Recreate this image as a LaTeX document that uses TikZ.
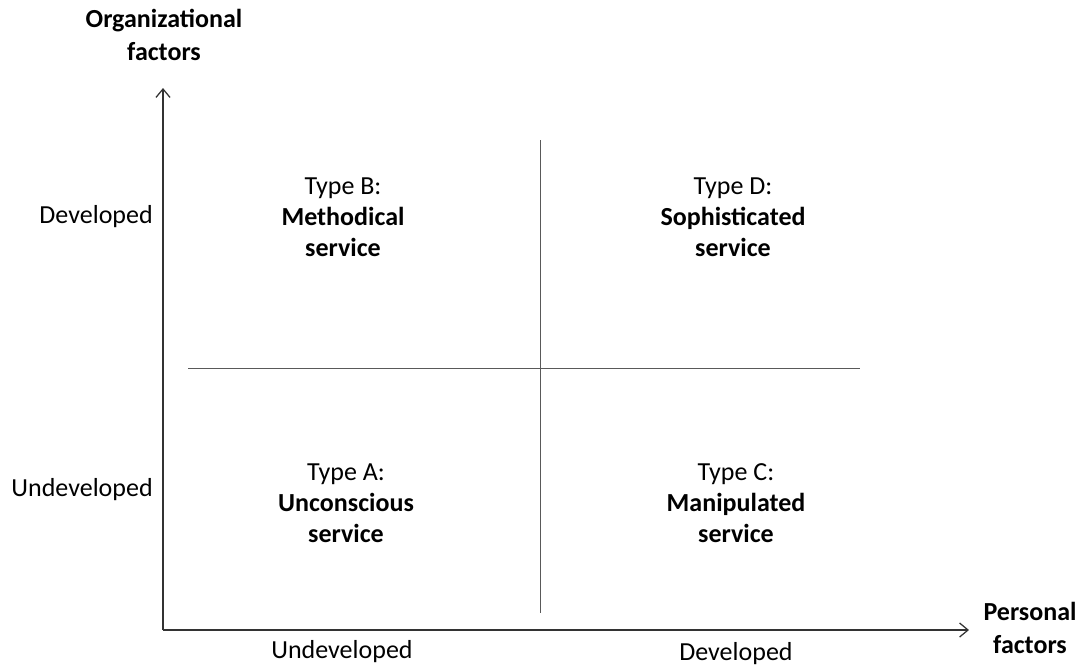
\documentclass[tikz,border=0pt]{standalone}
\usepackage{fontspec}
\setmainfont{Carlito}
\usepackage{tikz}
\usetikzlibrary{arrows.meta,positioning}

\begin{document}
\begin{tikzpicture}[
        x=0.025cm, y=-0.025cm,
        axis/.style={draw=black!80, line width=0.9pt, -{Straight Barb[length=6pt,width=10pt]}},
        divider/.style={draw=black!65, line width=0.7pt},
        lbl/.style={font=\fontsize{18.5}{22}\selectfont, align=center, inner sep=0pt},
        title/.style={font=\fontsize{18.5}{23}\selectfont\bfseries, align=center, inner sep=0pt},
        quad/.style={font=\fontsize{18.5}{22}\selectfont, align=center, inner sep=0pt}
    ]
        \useasboundingbox (0,0) rectangle (1083,667);
        % axes
        \coordinate (origin) at (163,630);
        \coordinate (ytop) at (163,88);
        \coordinate (xend) at (969,630);
        \draw[axis] (origin) -- (ytop);
        \draw[axis] (origin) -- (xend);
        % quadrant dividers
        \coordinate (vtop) at (540,140);
        \coordinate (vbot) at (540,613);
        \coordinate (hleft) at (188,368);
        \coordinate (hright) at (860,368);
        \draw[divider] (vtop) -- (vbot);
        \draw[divider] (hleft) -- (hright);
        % axis titles
        \node[title] (orgf) at (164,35) {Organizational\\factors};
        \node[title] (persf) at (1030,628) {Personal\\factors};
        % axis levels
        \node[lbl, anchor=east] (ydev) at (153,217) {Developed};
        \node[lbl, anchor=east] (yund) at (153,490) {Undeveloped};
        \node[lbl] (xund) at (342,652) {Undeveloped};
        \node[lbl] (xdev) at (736,654) {Developed};
        % quadrants
        \node[quad] (typeb) at (343,217) {Type B:\\\textbf{Methodical}\\\textbf{service}};
        \node[quad] (typed) at (733,217) {Type D:\\\textbf{Sophisticated}\\\textbf{service}};
        \node[quad] (typea) at (346,503) {Type A:\\\textbf{Unconscious}\\\textbf{service}};
        \node[quad] (typec) at (736,503) {Type C:\\\textbf{Manipulated}\\\textbf{service}};
    \end{tikzpicture}
\end{document}
